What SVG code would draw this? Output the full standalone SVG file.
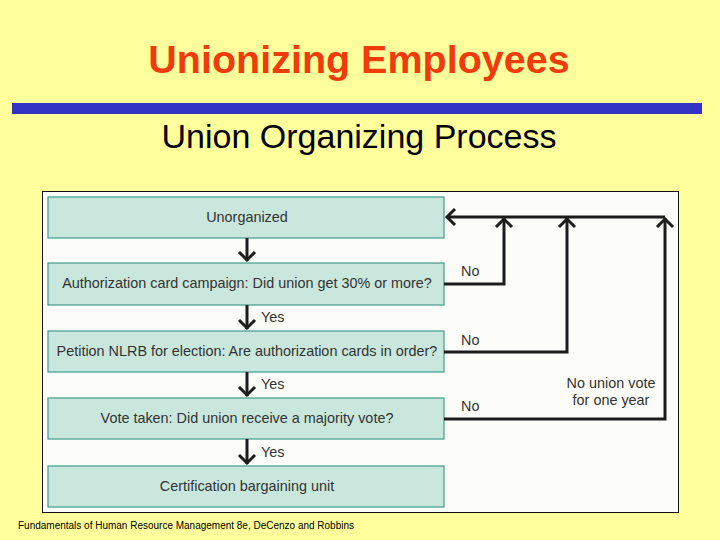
<svg xmlns="http://www.w3.org/2000/svg" width="720" height="540" viewBox="0 0 720 540">
<style>
.box{fill:#c9e7dd;stroke:#3f9d8c;stroke-width:1.2}
.bt{font-family:"Liberation Sans",Arial,sans-serif;font-size:14.4px;fill:#333;text-anchor:middle}
.lb{font-family:"Liberation Sans",Arial,sans-serif;font-size:14.4px;fill:#333}
.ln{fill:none;stroke:#1c1c1c;stroke-width:3}
.hd{fill:none;stroke:#1c1c1c;stroke-width:3;stroke-linejoin:miter}
</style>
<rect width="720" height="540" fill="#ffff9c"/>
<text x="359" y="73" font-family="'Liberation Sans',Arial,sans-serif" font-size="39.5" font-weight="bold" fill="#f03c0c" text-anchor="middle">Unionizing Employees</text>
<rect x="12" y="103" width="690" height="11" fill="#3434c4"/>
<text x="359" y="148" font-family="'Liberation Sans',Arial,sans-serif" font-size="34" fill="#000" text-anchor="middle">Union Organizing Process</text>
<rect x="42.5" y="191.5" width="636" height="321" fill="#fcfcf8" stroke="#111" stroke-width="1"/>
<g id="n1"><rect class="box" x="48" y="197" width="396" height="41"/><text class="bt" x="247" y="222">Unorganized</text></g>
<g id="n2"><rect class="box" x="48" y="263" width="396" height="42"/><text class="bt" x="247" y="288">Authorization card campaign: Did union get 30% or more?</text></g>
<g id="n3"><rect class="box" x="48" y="331" width="396" height="41"/><text class="bt" x="247" y="356">Petition NLRB for election: Are authorization cards in order?</text></g>
<g id="n4"><rect class="box" x="48" y="398" width="396" height="41"/><text class="bt" x="247" y="423">Vote taken: Did union receive a majority vote?</text></g>
<g id="n5"><rect class="box" x="48" y="466" width="396" height="41"/><text class="bt" x="247" y="491">Certification bargaining unit</text></g>
<g id="connectors">
<path class="ln" d="M247 238V261M247 305V329M247 372V396M247 439V464"/>
<path class="hd" d="M239 252L247 260L255 252M239 320L247 328L255 320M239 387L247 395L255 387M239 455L247 463L255 455"/>
<path class="ln" d="M444 284H504V218M444 352H567V218M444 419H665V218M447 217H665"/>
<path class="hd" d="M455 209L447 217L455 225M496 227L504 219L512 227M559 227L567 219L575 227M657 227L665 219L673 227"/>
</g>
<g id="labels">
<text class="lb" x="261" y="322">Yes</text>
<text class="lb" x="261" y="389">Yes</text>
<text class="lb" x="261" y="457">Yes</text>
<text class="lb" x="461" y="276">No</text>
<text class="lb" x="461" y="345">No</text>
<text class="lb" x="461" y="411">No</text>
<text class="lb" x="611" y="388" text-anchor="middle">No union vote</text>
<text class="lb" x="611" y="405" text-anchor="middle">for one year</text>
</g>
<text x="18" y="529" font-family="'Liberation Sans',Arial,sans-serif" font-size="10" fill="#000" textLength="336">Fundamentals of Human Resource Management 8e, DeCenzo and Robbins</text>
</svg>
